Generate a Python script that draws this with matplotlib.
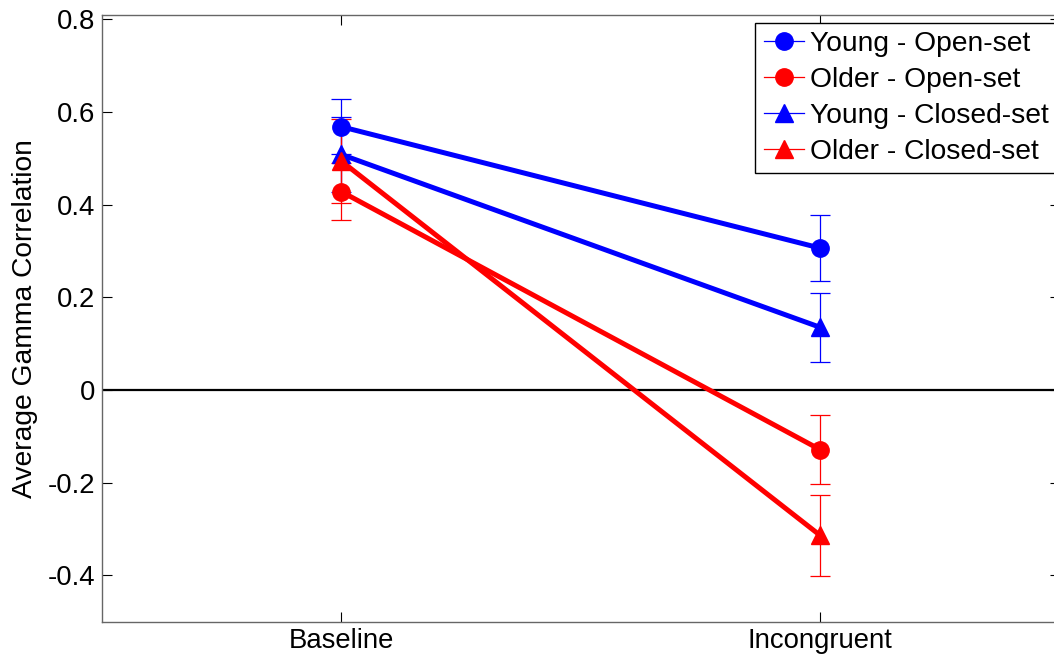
import numpy as np
import matplotlib
matplotlib.use('Agg')
import matplotlib.pyplot as plt
from matplotlib.lines import Line2D

plt.rcParams['font.family'] = ['Liberation Sans', 'DejaVu Sans']

# conditions on the x axis
conditions = ['Baseline', 'Incongruent']

# group means and error bar half-widths
young_open = [0.568, 0.306]
young_open_err = [0.060, 0.072]
older_open = [0.428, -0.129]
older_open_err = [0.062, 0.075]
young_closed = [0.508, 0.135]
young_closed_err = [0.081, 0.075]
older_closed = [0.494, -0.314]
older_closed_err = [0.091, 0.087]

labels = ['Young - Open-set', 'Older - Open-set', 'Young - Closed-set', 'Older - Closed-set']

########## Plotting ####################
W, H = 1054, 658
fig = plt.figure(figsize=(W/100, H/100), dpi=100)
# axes runs slightly past the right edge of the figure, like the cropped original
ax = fig.add_axes([101.7/W, 1-621.5/H, (1059.5-101.7)/W, (621.5-15)/H])

x = np.arange(1, len(conditions)+1)

series = [(young_open, young_open_err, 'b', 'o'),
          (older_open, older_open_err, 'r', 'o'),
          (young_closed, young_closed_err, 'b', '^'),
          (older_closed, older_closed_err, 'r', '^')]

ax.axhline(0, color='k', lw=1.6, zorder=1)

handles = []
for (m, e, c, mk), lab in zip(series, labels):
    # thick connecting line
    ax.plot(x, m, color=c, lw=3.6, zorder=2)
    ax.errorbar(x, m, yerr=e, color=c, marker=mk, ms=12.5, lw=0.9,
                capsize=7, capthick=0.9, zorder=3)
    # legend shows thin line + marker only
    handles.append(Line2D([], [], color=c, marker=mk, ms=12.5, lw=0.9))

ax.set_xlim(0.5, 2.5)
ax.set_ylim(-0.5, 0.809)
ax.set_xticks(x)
ax.set_xticklabels(conditions)
ax.set_yticks([-0.4, -0.2, 0, 0.2, 0.4, 0.6, 0.8])
ax.set_yticklabels(['-0.4', '-0.2', '0', '0.2', '0.4', '0.6', '0.8'])
ax.tick_params(direction='in', length=7, width=0.8, labelsize=19.8, pad=5,
               top=True, right=True)
for s in ax.spines.values():
    s.set_color('0.4')
    s.set_linewidth(1.0)
ax.set_ylabel('Average Gamma Correlation', fontsize=20.3, labelpad=7)

leg = ax.legend(handles=handles, labels=labels, loc='upper right',
                bbox_to_anchor=(1057/W, 1-22.7/H), bbox_transform=fig.transFigure,
                borderaxespad=0, fontsize=20.3, handlelength=1.42, handletextpad=0.21,
                labelspacing=0.35, borderpad=0.3, fancybox=False, framealpha=1)
leg.get_frame().set_edgecolor('k')
leg.get_frame().set_linewidth(1.0)

fig.savefig('out.png', dpi=100)
